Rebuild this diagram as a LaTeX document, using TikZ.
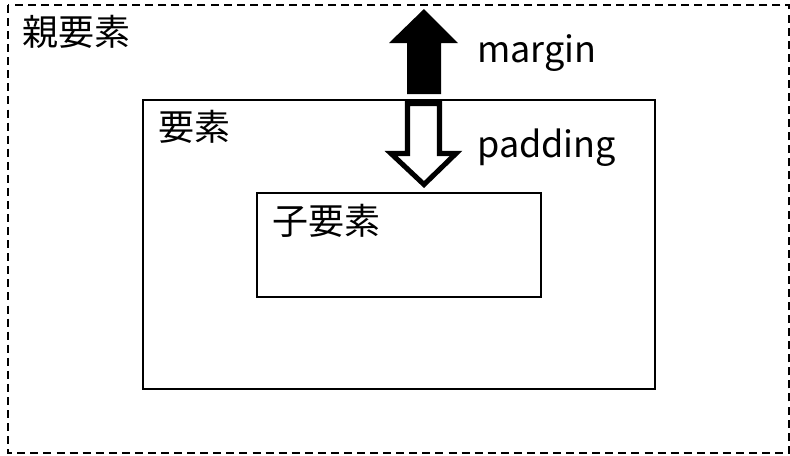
\documentclass[tikz,border=0pt]{standalone}
\usepackage{fontspec}
\setmainfont{Noto Sans CJK JP}
\usepackage{tikz}

\tikzset{
  box/.style={draw, line width=2.2pt*0.75, minimum width=#1, inner sep=0pt, anchor=north west},
  lbl/.style={inner sep=0pt, anchor=west, font=\fontsize{27pt}{32pt}\selectfont},
}

\begin{document}
\begin{tikzpicture}[x=0.75pt, y=-0.75pt]
\useasboundingbox (0,0) rectangle (790,455);

% Boxes
\draw[line width=1.5pt, dash pattern=on 6pt off 3.8pt] (8,5) rectangle (789,453);
\node[box=384pt, minimum height=216.75pt] (elem) at (142,99) {};
\node[box=213pt, minimum height=78pt] (child) at (256,192) {};

% Labels
\node[lbl] (parentlbl) at (22,32) {親要素};
\node[lbl] (elemlbl) at (158,127) {要素};
\node[lbl] (childlbl) at (272,221) {子要素};
\node[lbl, anchor=base west] (marginlbl) at (477,62) {margin};
\node[lbl, anchor=base west] (paddinglbl) at (477,157) {padding};

% margin arrow
\fill (407,94) -- (407,43) -- (389,43) -- (424,9) -- (458,43) -- (441,43) -- (441,94) -- cycle;

% padding arrow
\draw[line width=3.8pt, fill=white, miter limit=10] (407.5,103.5) -- (439.5,103.5) -- (439.5,153.5)
  -- (456,153.5) -- (424,184.5) -- (391,153.5) -- (407.5,153.5) -- cycle;
\end{tikzpicture}
\end{document}
